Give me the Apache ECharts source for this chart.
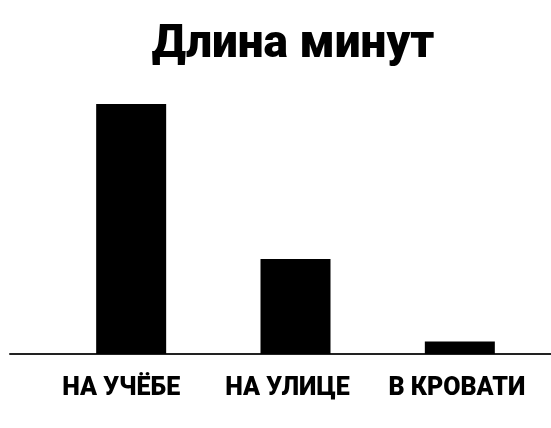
<!DOCTYPE html>
<html>
<head>
<meta charset="utf-8">
<script src="https://cdn.jsdelivr.net/npm/echarts@6/dist/echarts.min.js"></script>
<style>
html,body{margin:0;padding:0;background:#fff;}
#c{width:551px;height:428px;}
</style>
</head>
<body>
<div id="c"></div>
<script>
var titleText = 'Длина минут';
var categories = ['НА УЧЁБЕ', 'НА УЛИЦЕ', 'В КРОВАТИ'];
var values = [100, 38, 5];

var FONT = 'Roboto, "Liberation Sans", sans-serif';
var labelStyles = ['a', 'b', 'c'];

var chart = echarts.init(document.getElementById('c'), null, {renderer: 'canvas'});
chart.setOption({
  backgroundColor: '#ffffff',
  animation: false,
  title: {
    text: titleText,
    left: 288,
    textAlign: 'center',
    top: 17,
    textStyle: {
      fontFamily: FONT,
      fontSize: 46,
      fontWeight: 900,
      color: '#000'
    }
  },
  grid: [
    {left: 49, right: 9, top: 104, bottom: 74},
    {left: 10, right: 0, top: 104, bottom: 74}
  ],
  xAxis: [
    {
      type: 'category',
      gridIndex: 0,
      data: categories,
      axisLine: {show: false},
      axisTick: {show: false},
      axisLabel: {
        margin: 22,
        interval: 0,
        formatter: function (v, i) { return '{' + labelStyles[i] + '|' + v + '}'; },
        rich: {
          a: {fontFamily: FONT, fontSize: 25, fontWeight: 900, color: '#000', padding: [0, 20, 0, 0]},
          b: {fontFamily: FONT, fontSize: 25, fontWeight: 900, color: '#000', padding: [0, 16, 0, 0]},
          c: {fontFamily: FONT, fontSize: 25, fontWeight: 900, color: '#000', padding: [0, 6, 0, 0]}
        }
      }
    },
    {
      type: 'value',
      gridIndex: 1,
      min: 0,
      max: 1,
      position: 'bottom',
      axisLine: {show: true, onZero: false, lineStyle: {color: '#222', width: 2}},
      axisTick: {show: false},
      axisLabel: {show: false},
      splitLine: {show: false}
    }
  ],
  yAxis: [
    {type: 'value', gridIndex: 0, min: 0, max: 100, show: false, splitLine: {show: false}},
    {type: 'value', gridIndex: 1, min: 0, max: 1, show: false, splitLine: {show: false}}
  ],
  series: [
    {
      type: 'bar',
      xAxisIndex: 0,
      yAxisIndex: 0,
      data: values,
      barWidth: 70,
      itemStyle: {color: '#000'}
    }
  ]
});
</script>
</body>
</html>
